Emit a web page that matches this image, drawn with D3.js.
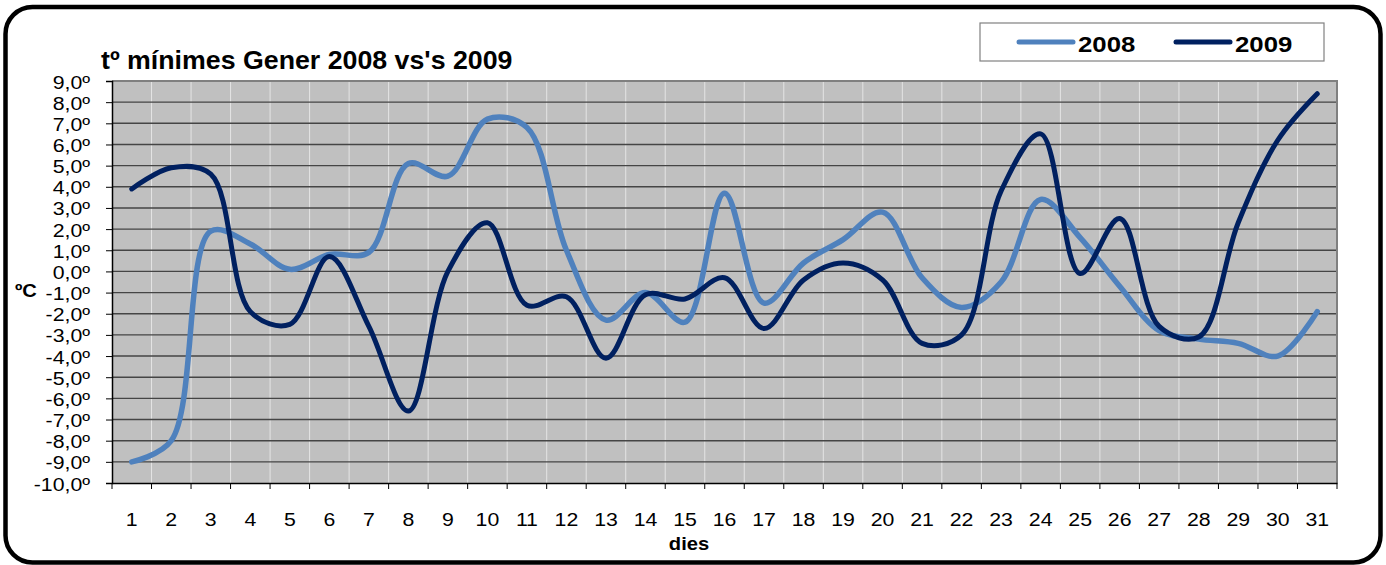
<!DOCTYPE html>
<html>
<head>
<meta charset="utf-8">
<script src="https://cdn.jsdelivr.net/npm/d3@7"></script>
<style>
  body { margin: 0; background: #fff; }
  text { font-family: Arial, "Liberation Sans", sans-serif; fill: #000; }
</style>
</head>
<body>
<div id="chart"></div>
<script>
const days = ["1","2","3","4","5","6","7","8","9","10","11","12","13","14","15","16",
              "17","18","19","20","21","22","23","24","25","26","27","28","29","30","31"];
const min2008 = [-9.0, -8.0, 1.9, 1.3, 0.1, 0.8, 0.9, 5.1, 4.5, 7.2, 6.8, 1.0, -2.3, -1.0, -2.4, 3.7,
                 -1.5, 0.4, 1.5, 2.8, -0.3, -1.7, -0.5, 3.4, 1.6, -0.7, -2.8, -3.2, -3.4, -4.0, -1.9];
const min2009 = [3.9, 4.9, 4.6, -1.9, -2.5, 0.7, -2.6, -6.6, 0.0, 2.3, -1.6, -1.2, -4.1, -1.1, -1.3, -0.3,
                 -2.7, -0.4, 0.4, -0.4, -3.4, -3.0, 3.8, 6.5, -0.1, 2.5, -2.6, -3.1, 2.3, 6.2, 8.4];
const yTicks = [-10, -9, -8, -7, -6, -5, -4, -3, -2, -1, 0, 1, 2, 3, 4, 5, 6, 7, 8, 9];
const seriesNames = ["2008", "2009"];
const seriesColors = ["#4f81bd", "#002060"];

const width = 1386;
const height = 565;
const plot = { left: 112, right: 1337, top: 81, bottom: 483 };
const sx = 1.12; // the original picture is stretched a bit sideways

const svg = d3.select("#chart")
    .append("svg")
    .attr("width", width)
    .attr("height", height);

// outer rounded frame
svg.append("rect")
    .attr("x", 5.5).attr("y", 7)
    .attr("width", 1375).attr("height", 555.5)
    .attr("rx", 27).attr("ry", 27)
    .attr("fill", "none")
    .attr("stroke", "#000")
    .attr("stroke-width", 4.5);

const x = d3.scaleBand()
    .domain(days)
    .range([plot.left, plot.right])
    .padding(0);

const y = d3.scaleLinear()
    .domain([-10, 9])
    .range([plot.bottom, plot.top]);

const cx = d => x(d) + x.bandwidth() / 2;

// plot background
svg.append("rect")
    .attr("x", plot.left).attr("y", plot.top)
    .attr("width", plot.right - plot.left)
    .attr("height", plot.bottom - plot.top)
    .attr("fill", "#c0c0c0");

// vertical grid at category borders
svg.append("g")
    .selectAll("line")
    .data(days.slice(1))
    .join("line")
    .attr("x1", d => x(d)).attr("x2", d => x(d))
    .attr("y1", plot.top).attr("y2", plot.bottom)
    .attr("stroke", "#e4e4e4")
    .attr("stroke-width", 1);

// horizontal grid
svg.append("g")
    .selectAll("line")
    .data(yTicks.filter(v => v > -10 && v < 9))
    .join("line")
    .attr("x1", plot.left).attr("x2", plot.right)
    .attr("y1", d => y(d)).attr("y2", d => y(d))
    .attr("stroke", "#454545")
    .attr("stroke-width", 1.4);

// top and right border of the plot
svg.append("path")
    .attr("d", `M${plot.left},${plot.top}H${plot.right}V${plot.bottom}`)
    .attr("fill", "none")
    .attr("stroke", "#808080")
    .attr("stroke-width", 2);

// y axis
const locale = d3.formatLocale({ decimal: ",", thousands: ".", grouping: [3], currency: ["", "€"], minus: "-" });
const fmt = locale.format(".1f");

const yAxis = svg.append("g")
    .attr("transform", `translate(${plot.left},0)`)
    .call(d3.axisLeft(y).tickValues(yTicks).tickSize(6).tickFormat(d => fmt(d) + "º"));
yAxis.select(".domain").attr("stroke", "#000").attr("stroke-width", 1.5);
yAxis.selectAll(".tick line").attr("stroke", "#000");
yAxis.selectAll(".tick text")
    .attr("x", -22 / sx)
    .attr("dy", "0.37em")
    .attr("transform", `scale(${sx},1)`)
    .style("font-size", "19px")
    .style("font-family", "Arial, 'Liberation Sans', sans-serif");

// x axis: labels at the centre of each day, ticks on the borders
const xAxis = svg.append("g")
    .attr("transform", `translate(0,${plot.bottom})`)
    .call(d3.axisBottom(x).tickSize(0).tickPadding(30));
xAxis.select(".domain").attr("stroke", "#000").attr("stroke-width", 1.5);
xAxis.selectAll(".tick text")
    .attr("transform", `scale(${sx},1)`)
    .style("font-size", "19px")
    .style("font-family", "Arial, 'Liberation Sans', sans-serif");

xAxis.append("g")
    .selectAll("line")
    .data(days.concat(["end"]))
    .join("line")
    .attr("x1", (d, i) => plot.left + i * x.step())
    .attr("x2", (d, i) => plot.left + i * x.step())
    .attr("y1", 0).attr("y2", 6)
    .attr("stroke", "#000");

// series (smoothed like the spreadsheet lines)
const line = d3.line()
    .x((d, i) => cx(days[i]))
    .y(d => y(d))
    .curve(d3.curveCatmullRom.alpha(0.5));

[min2008, min2009].forEach((s, k) => {
    svg.append("path")
        .datum(s)
        .attr("d", line)
        .attr("fill", "none")
        .attr("stroke", seriesColors[k])
        .attr("stroke-width", k === 0 ? 5.5 : 5)
        .attr("stroke-linecap", "round")
        .attr("stroke-linejoin", "round");
});

// texts
function label(txt, tx, ty, size, bold, anchor, scale) {
    svg.append("text")
        .attr("transform", `translate(${tx},${ty}) scale(${scale},1)`)
        .attr("text-anchor", anchor)
        .style("font-size", size + "px")
        .style("font-weight", bold ? "bold" : "normal")
        .text(txt);
}

label("tº mínimes Gener 2008 vs's 2009", 101, 69, 25, true, "start", 1.07);
label("ºC", 15, 297, 18, true, "start", sx);
label("dies", 689, 550, 18, true, "middle", sx);

// legend
const legend = svg.append("g");
legend.append("rect")
    .attr("x", 980).attr("y", 23)
    .attr("width", 344).attr("height", 38)
    .attr("fill", "#fff")
    .attr("stroke", "#808080")
    .attr("stroke-width", 1.2);

const legendX = [1019, 1176];
seriesNames.forEach((name, k) => {
    legend.append("line")
        .attr("x1", legendX[k]).attr("x2", legendX[k] + 54)
        .attr("y1", 42).attr("y2", 42)
        .attr("stroke", seriesColors[k])
        .attr("stroke-width", 5)
        .attr("stroke-linecap", "round");
    legend.append("text")
        .attr("transform", `translate(${legendX[k] + 59},51.5) scale(${sx},1)`)
        .style("font-size", "23px")
        .style("font-weight", "bold")
        .text(name);
});
</script>
</body>
</html>
